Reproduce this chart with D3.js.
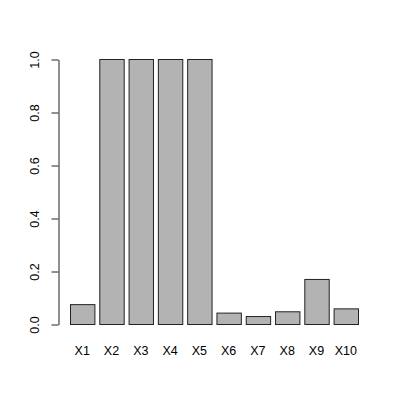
<!DOCTYPE html>
<html>
<head>
<meta charset="utf-8">
<script src="https://cdn.jsdelivr.net/npm/d3@7"></script>
<style>
	body { margin: 0; background: #fff; }
	text { font-family: "Liberation Sans", Arial, sans-serif; }
</style>
</head>
<body>
<div id="visHolder"></div>
<script>
const categories = ["X1", "X2", "X3", "X4", "X5", "X6", "X7", "X8", "X9", "X10"];
const values = [0.075, 1, 1, 1, 1, 0.043, 0.03, 0.048, 0.17, 0.059];
const yTicks = [0, 0.2, 0.4, 0.6, 0.8, 1.0];

const width = 400;
const height = 400;
const plot = { left: 70, right: 358, top: 59, bottom: 324 };

const svg = d3
	.select("#visHolder")
	.append("svg")
	.attr("width", width)
	.attr("height", height);

// R barplot style: bar width 1, space 0.2
const x = d3
	.scaleBand()
	.domain(categories)
	.range([plot.left, plot.right])
	.paddingInner(0.2 / 1.2)
	.paddingOuter(0);

const y = d3.scaleLinear().domain([0, 1]).range([plot.bottom, plot.top]);

svg
	.append("g")
	.selectAll("rect")
	.data(values)
	.join("rect")
	.attr("x", (d, i) => x(categories[i]) + 0.5)
	.attr("y", (d) => y(d) + 0.5)
	.attr("width", x.bandwidth())
	.attr("height", (d) => y(0) - y(d))
	.attr("fill", "#b3b3b3")
	.attr("stroke", "#222")
	.attr("stroke-width", 1);

// category labels
svg
	.append("g")
	.selectAll("text")
	.data(categories)
	.join("text")
	.attr("x", (d) => x(d) + x.bandwidth() / 2)
	.attr("y", 355)
	.attr("text-anchor", "middle")
	.attr("font-size", 12.5)
	.text((d) => d);

// y axis
const yAxis = d3
	.axisLeft(y)
	.tickValues(yTicks)
	.tickFormat(d3.format(".1f"))
	.tickSize(7)
	.tickSizeOuter(0);

const axisG = svg
	.append("g")
	.attr("transform", "translate(58.5,0.5)")
	.call(yAxis);

axisG.select(".domain").attr("stroke", "#222");
axisG.selectAll(".tick line").attr("stroke", "#222");
axisG
	.selectAll(".tick text")
	.attr("font-size", 12.5)
	.attr("font-family", "Liberation Sans, Arial, sans-serif")
	.attr("fill", "#000")
	.attr("text-anchor", "middle")
	.attr("x", null)
	.attr("dy", null)
	.attr("transform", "translate(-20,0) rotate(-90)");
</script>
</body>
</html>
